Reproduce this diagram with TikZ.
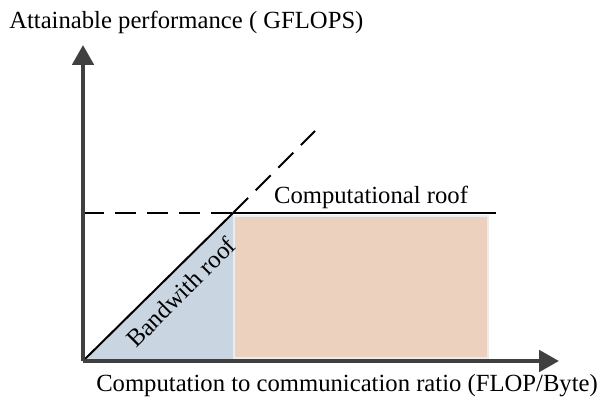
\documentclass[tikz,border=0pt]{standalone}
\usepackage{fontspec}
\setmainfont{Liberation Serif}
\usetikzlibrary{arrows.meta}
\definecolor{axisgray}{HTML}{404040}
\definecolor{bwfill}{HTML}{C9D5E1}
\definecolor{cpfill}{HTML}{ECD1BE}
\tikzset{
  axisline/.style={draw=axisgray,line width=3pt,-{Triangle[length=15pt 0,width=16pt 0]}},
  roofline/.style={draw=black,line width=1.5pt},
  roofdash/.style={draw=black,line width=1.5pt,dash pattern=on 16pt off 8pt},
  lbl/.style={font=\fontsize{18.5}{20}\selectfont,inner sep=0pt}
}
\begin{document}
\begin{tikzpicture}[x=0.75pt,y=-0.75pt]
\useasboundingbox (0,0) rectangle (599,403);
\coordinate (O) at (83,361);
\coordinate (R) at (233,213);
\coordinate (Rb) at (233,361);
\coordinate (Ye) at (83,45);
\coordinate (Xe) at (559,361);
\coordinate (Dl) at (83,213);
\coordinate (De) at (315,131);
\coordinate (Ce) at (496,213);
% regions
\fill[bwfill] (O) -- (R) -- (Rb) -- cycle;
\fill[cpfill,draw=gray!15,line width=1pt] (234,216) rectangle (488,358);
% roofs
\draw[roofdash] (Dl) -- (R);
\draw[roofdash] (R) -- (De);
\draw[roofline] (O) -- (R);
\draw[roofline] (R) -- (Ce);
% axes
\draw[axisline] (O) -- (Ye);
\draw[axisline] (O) -- (Xe);
% labels
\node[lbl,anchor=west] (ylab) at (9,22) {Attainable performance ( GFLOPS)};
\node[lbl,anchor=west] (xlab) at (96,386) {Computation to communication ratio (FLOP/Byte)};
\node[lbl] (clab) at (371,197) {Computational roof};
\node[lbl,rotate=45] (blab) at (181,292) {Bandwith roof};
\end{tikzpicture}
\end{document}
